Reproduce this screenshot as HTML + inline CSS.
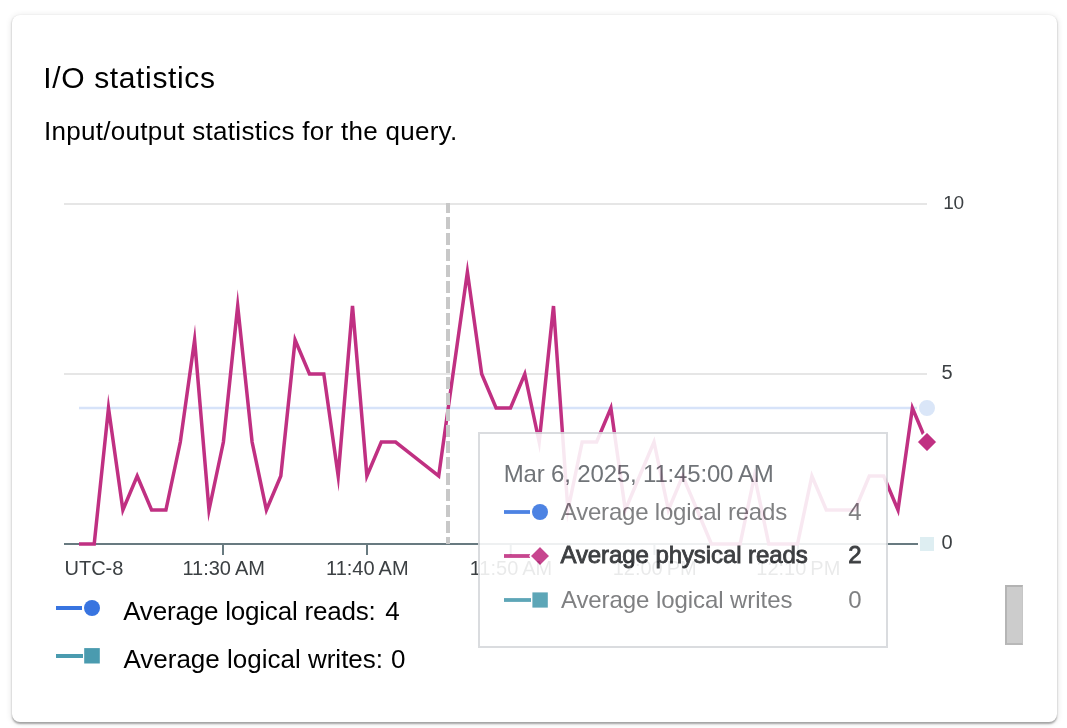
<!DOCTYPE html>
<html><head><meta charset="utf-8">
<style>
html,body{margin:0;padding:0;background:#fff;width:1067px;height:728px;overflow:hidden;}
body{position:relative;font-family:"Liberation Sans",sans-serif;}
.card{position:absolute;left:12px;top:15px;width:1045px;height:707px;border-radius:8px;background:#fff;
box-shadow:0 1.5px 2px 0 rgba(0,0,0,.32),0 1px 6px 1px rgba(0,0,0,.09);}
svg{position:absolute;left:0;top:0;will-change:transform;}
text{font-family:"Liberation Sans",sans-serif;}
.thumb{position:absolute;left:1005px;top:585px;width:18px;height:60px;background:#cccccc;box-sizing:border-box;border-left:2px solid #b5b5b5;border-top:2px solid #b3b3b3;border-bottom:2px solid #b8b8b8;border-right:1px solid #c6c6c6;}
</style></head>
<body>
<div class="card"></div>
<svg width="1067" height="728" viewBox="0 0 1067 728">
  <text x="43.2" y="88" font-size="30" letter-spacing="0.65" fill="#000">I/O statistics</text>
  <text x="44.1" y="140" font-size="26" letter-spacing="0.28" fill="#000">Input/output statistics for the query.</text>
  <!-- grid -->
  <line x1="64" y1="204" x2="927" y2="204" stroke="#e6e6e6" stroke-width="2"/>
  <line x1="64" y1="374" x2="927" y2="374" stroke="#e6e6e6" stroke-width="2"/>
  <!-- blue series faded -->
  <line x1="79" y1="408" x2="927" y2="408" stroke="#3874e0" stroke-opacity="0.2" stroke-width="2.6"/>
  <!-- axis -->
  <line x1="64" y1="544" x2="927" y2="544" stroke="#687a80" stroke-width="2"/>
  <g stroke="#687a80" stroke-width="2">
    <line x1="223" y1="544" x2="223" y2="555"/>
    <line x1="367" y1="544" x2="367" y2="555"/>
    <line x1="510.7" y1="544" x2="510.7" y2="555"/>
    <line x1="654.4" y1="544" x2="654.4" y2="555"/>
    <line x1="798" y1="544" x2="798" y2="555"/>
  </g>
  <g font-size="20" fill="#3c4043">
    <text x="64.5" y="575">UTC-8</text>
    <text x="223.7" y="575" text-anchor="middle">11:30&#x202F;AM</text>
    <text x="367.3" y="575" text-anchor="middle">11:40&#x202F;AM</text>
    <text x="511" y="575" text-anchor="middle">11:50&#x202F;AM</text>
    <text x="654.7" y="575" text-anchor="middle">12:00&#x202F;PM</text>
    <text x="798.3" y="575" text-anchor="middle">12:10&#x202F;PM</text>
    <text x="943.2" y="209" font-size="19" letter-spacing="-0.3">10</text>
    <text x="941.4" y="379.4">5</text>
    <text x="941.4" y="549.4">0</text>
  </g>
  <!-- pink series -->
  <polyline points="79.0,544.0 94.2,544.0 108.5,408.0 122.9,510.0 137.2,476.0 151.6,510.0 165.9,510.0 180.3,442.0 194.6,340.0 209.0,510.0 223.4,442.0 237.7,306.0 252.1,442.0 266.4,510.0 280.8,476.0 295.1,340.0 309.5,374.0 323.8,374.0 338.2,476.0 352.5,306.0 366.9,476.0 381.3,442.0 395.6,442.0 410.0,453.3 424.3,464.7 438.7,476.0 453.0,374.0 467.4,272.0 481.7,374.0 496.1,408.0 510.5,408.0 524.8,374.0 539.2,442.0 553.5,306.0 567.9,510.0 582.2,442.0 596.6,442.0 610.9,408.0 625.3,510.0 639.6,476.0 654.0,442.0 668.4,510.0 682.7,476.0 697.1,510.0 711.4,544.0 725.8,544.0 740.1,544.0 754.5,476.0 768.8,544.0 783.2,544.0 797.5,544.0 811.9,476.0 826.3,510.0 840.6,510.0 855.0,510.0 869.3,476.0 883.7,476.0 898.0,510.0 912.4,408.0 926.7,442.0" fill="none" stroke="#c03082" stroke-width="3.5" stroke-linejoin="miter" stroke-miterlimit="10"/>
  <!-- hover line -->
  <line x1="448" y1="203" x2="448" y2="544" stroke="#c8c8c8" stroke-width="4" stroke-dasharray="12 4" stroke-dashoffset="2"/>
  <!-- end markers -->
  <circle cx="927" cy="408" r="9" fill="#dae6f8" stroke="#fff" stroke-width="2"/>
  <rect x="919" y="536" width="16" height="16" fill="#deeef2" stroke="#fff" stroke-width="2"/>
  <polygon points="927,431.5 937.5,442 927,452.5 916.5,442" fill="#c03082" stroke="#fff" stroke-width="2"/>
  <!-- tooltip -->
  <g opacity="0.89">
  <rect x="479" y="433" width="408" height="214" fill="#fff" stroke="#d6d8dc" stroke-width="2"/>
  <text x="503.8" y="482" font-size="24" letter-spacing="-0.17" fill="#5f6368">Mar 6, 2025, 11:45:00&#x202F;AM</text>
  <line x1="504" y1="512" x2="530" y2="512" stroke="#3874e0" stroke-width="3.8"/>
  <circle cx="540" cy="512" r="8" fill="#3874e0"/>
  <line x1="504" y1="556" x2="530" y2="556" stroke="#c03082" stroke-width="3.8"/>
  <polygon points="540,546 550,556 540,566 530,556" fill="#c03082" stroke="#fff" stroke-width="1.5"/>
  <line x1="504" y1="600" x2="531" y2="600" stroke="#4a9baf" stroke-width="3.8"/>
  <rect x="532.4" y="592.4" width="15.4" height="15.2" fill="#4a9baf"/>
  <text x="560.8" y="520" font-size="24" letter-spacing="-0.2" fill="#707173">Average logical reads</text>
  <text x="861.5" y="520" font-size="24" fill="#707173" text-anchor="end">4</text>
  <text x="560.4" y="563.4" font-size="24" letter-spacing="-0.08" stroke="#26282b" stroke-width="0.85" fill="#26282b">Average physical reads</text>
  <text x="861.5" y="563.4" font-size="24" stroke="#26282b" stroke-width="0.85" fill="#26282b" text-anchor="end">2</text>
  <text x="560.9" y="607.5" font-size="24" letter-spacing="-0.07" fill="#707173">Average logical writes</text>
  <text x="861.5" y="607.5" font-size="24" fill="#707173" text-anchor="end">0</text>
  </g>
  <!-- legend -->
  <line x1="56" y1="608" x2="82" y2="608" stroke="#3874e0" stroke-width="4"/>
  <circle cx="92" cy="608" r="8" fill="#3874e0"/>
  <text x="123.2" y="620" font-size="26" letter-spacing="-0.2" fill="#000">Average logical reads:</text>
  <text x="385.2" y="620" font-size="26" fill="#000">4</text>
  <line x1="56" y1="656" x2="83" y2="656" stroke="#4a9baf" stroke-width="4"/>
  <rect x="84.2" y="648.1" width="15.6" height="15.4" fill="#4a9baf"/>
  <text x="123.4" y="668" font-size="26" fill="#000">Average logical writes:</text>
  <text x="391.1" y="668" font-size="26" fill="#000">0</text>
</svg>
<div class="thumb"></div>
</body></html>
